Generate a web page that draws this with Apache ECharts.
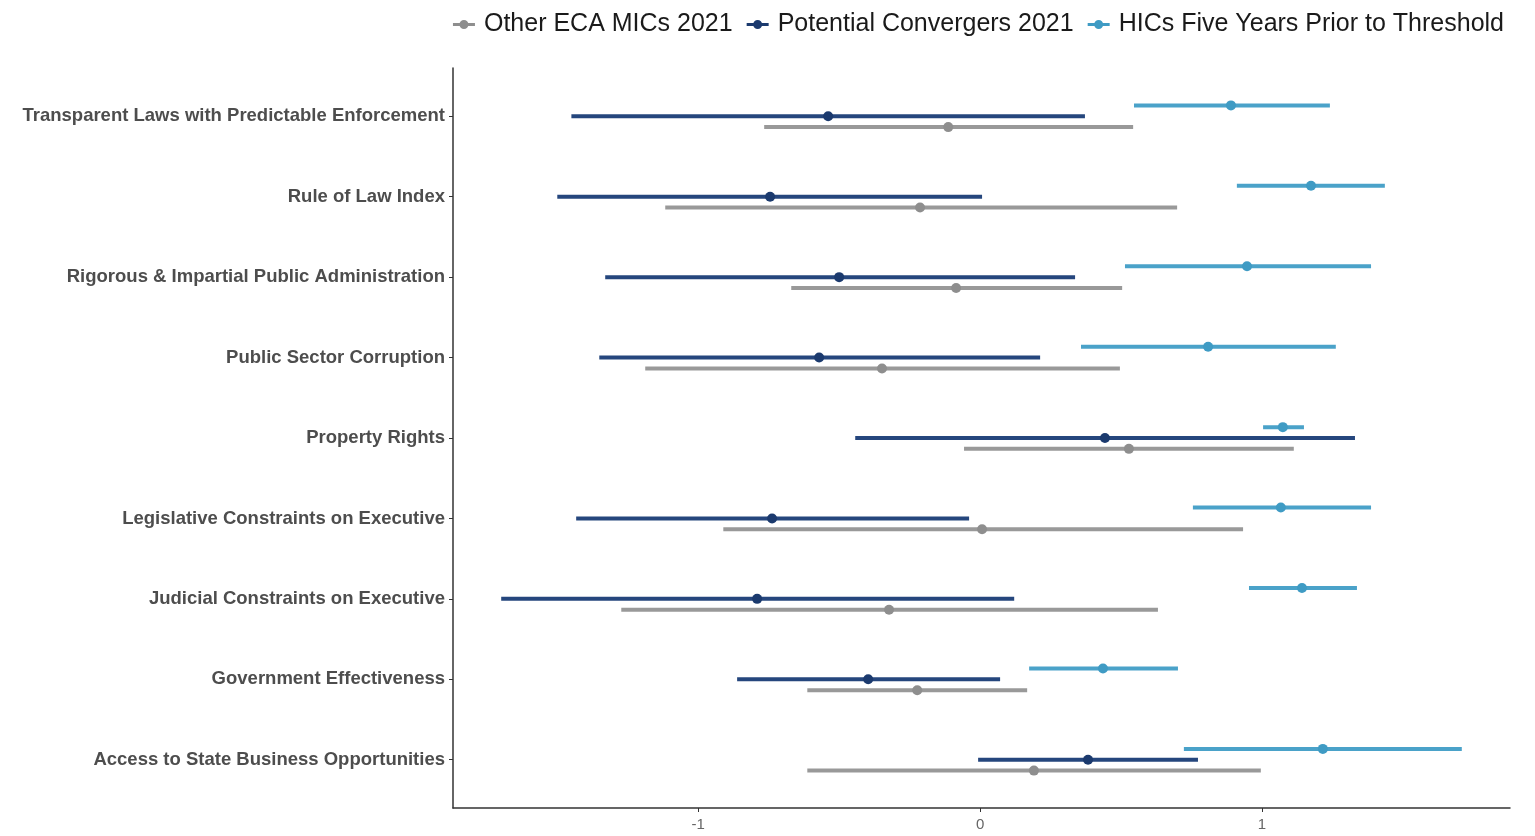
<!DOCTYPE html>
<html>
<head>
<meta charset="utf-8">
<script src="https://cdn.jsdelivr.net/npm/echarts@6/dist/echarts.min.js"></script>
<style>html,body{margin:0;padding:0;background:#fff}#c{width:1535px;height:836px}</style>
</head>
<body>
<div id="c"></div>
<script>
// Categories, listed top to bottom
const categories = [
  "Transparent Laws with Predictable Enforcement",
  "Rule of Law Index",
  "Rigorous & Impartial Public Administration",
  "Public Sector Corruption",
  "Property Rights",
  "Legislative Constraints on Executive",
  "Judicial Constraints on Executive",
  "Government Effectiveness",
  "Access to State Business Opportunities"
];
const seriesNames = ["Other ECA MICs 2021", "Potential Convergers 2021", "HICs Five Years Prior to Threshold"];
// [low, mid, high] per category
const otherECA = [
  [-0.766, -0.113, 0.543],
  [-1.117, -0.213, 0.699],
  [-0.670, -0.085, 0.504],
  [-1.188, -0.348, 0.496],
  [-0.057, 0.528, 1.113],
  [-0.911, 0.007, 0.933],
  [-1.273, -0.323, 0.631],
  [-0.613, -0.223, 0.167],
  [-0.613, 0.191, 0.996]
];
const potentialConvergers = [
  [-1.450, -0.539, 0.372],
  [-1.500, -0.745, 0.007],
  [-1.330, -0.500, 0.337],
  [-1.351, -0.571, 0.213],
  [-0.443, 0.443, 1.330],
  [-1.433, -0.738, -0.039],
  [-1.699, -0.791, 0.121],
  [-0.862, -0.397, 0.071],
  [-0.007, 0.383, 0.773]
];
const hicsPrior = [
  [0.546, 0.890, 1.241],
  [0.911, 1.174, 1.436],
  [0.514, 0.947, 1.387],
  [0.358, 0.809, 1.262],
  [1.004, 1.074, 1.149],
  [0.755, 1.067, 1.387],
  [0.954, 1.142, 1.337],
  [0.174, 0.436, 0.702],
  [0.723, 1.216, 1.709]
];
const xTicks = [-1, 0, 1];

const n = categories.length;
const yVals = categories.map((c, i) => n - i);
const colors = ["#999999", "#25467d", "#4aa2c9"];
const pointColors = ["#8e8e8e", "#1b3a6e", "#3f9bc4"];
const dodge = [-0.135, 0, 0.135];

function build(arr) {
  return arr.map((d, i) => [yVals[i], d[0], d[1], d[2]]);
}
const allData = [otherECA, potentialConvergers, hicsPrior];

function makeRender(k) {
  return function (params, api) {
    const y = api.value(0) + dodge[k];
    const lo = api.coord([api.value(1), y]);
    const mid = api.coord([api.value(2), y]);
    const hi = api.coord([api.value(3), y]);
    return {
      type: 'group',
      children: [
        { type: 'line', shape: { x1: lo[0], y1: lo[1], x2: hi[0], y2: hi[1] },
          style: { stroke: colors[k], lineWidth: 4 } },
        { type: 'circle', shape: { cx: mid[0], cy: mid[1], r: 5 },
          style: { fill: pointColors[k] } }
      ]
    };
  };
}

const icon = 'path://M0,4.5H22V7.5H0Z M6.5,6A4.5,4.5,0,1,1,15.5,6A4.5,4.5,0,1,1,6.5,6Z';

const chart = echarts.init(document.getElementById('c'));
chart.setOption({
  animation: false,
  backgroundColor: '#fff',
  textStyle: { fontFamily: 'Liberation Sans, Arial, sans-serif' },
  legend: {
    right: 26, top: 7,
    itemWidth: 22, itemHeight: 12, itemGap: 14,
    icon: icon,
    textStyle: { fontSize: 25, color: '#1a1a1a', fontFamily: 'Liberation Sans, Arial, sans-serif', padding: [0, 0, 0, 4] },
    data: seriesNames
  },
  grid: { left: 453, right: 25, top: 68, bottom: 28, containLabel: false },
  xAxis: {
    type: 'value', min: -1.87, max: 1.88,
    axisLine: { show: true, onZero: false, lineStyle: { color: '#333', width: 1.5 } },
    axisTick: { show: true, customValues: xTicks, length: 4, lineStyle: { color: '#333' } },
    axisLabel: { customValues: xTicks, color: '#666', fontSize: 15, margin: 9 },
    splitLine: { show: false }
  },
  yAxis: {
    type: 'value', min: 0.4, max: 9.6,
    axisLine: { show: true, onZero: false, lineStyle: { color: '#333', width: 1.5 } },
    axisTick: { show: true, customValues: yVals, length: 4, lineStyle: { color: '#333' } },
    axisLabel: {
      customValues: yVals, color: '#4d4d4d', fontSize: 18.5, fontWeight: 'bold', margin: 8,
      formatter: v => categories[n - Math.round(v)]
    },
    splitLine: { show: false }
  },
  series: seriesNames.map((name, k) => ({
    type: 'custom', name: name,
    color: pointColors[k],
    itemStyle: { color: pointColors[k] },
    renderItem: makeRender(k),
    encode: { x: [1, 2, 3], y: 0 },
    data: build(allData[k])
  }))
});
</script>
</body>
</html>
